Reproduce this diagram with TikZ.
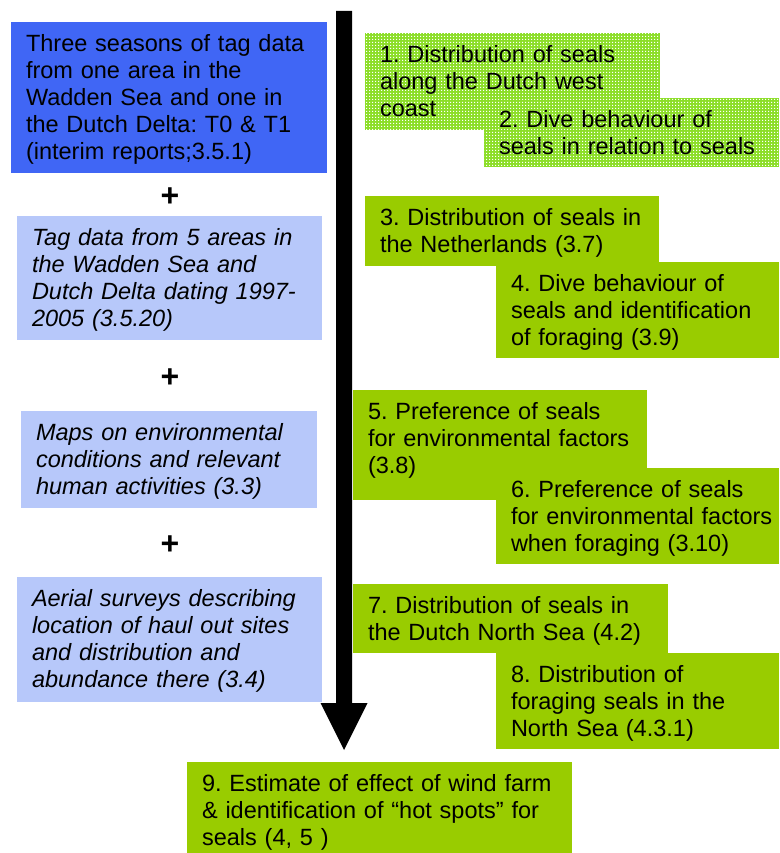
\documentclass[tikz,border=0pt]{standalone}
\usepackage{fontspec}
\setmainfont{Liberation Sans}
\usetikzlibrary{patterns.meta}
\definecolor{dblue}{RGB}{64,102,245}
\definecolor{lblue}{RGB}{183,200,250}
\definecolor{ogreen}{RGB}{153,204,0}
\definecolor{dgreen}{RGB}{140,222,40}
\pgfdeclarepattern{name=sqdots, type=uncolored,
  bottom left={\pgfpoint{0pt}{0pt}}, top right={\pgfpoint{3pt}{3pt}},
  tile size={\pgfpoint{3pt}{3pt}},
  code={\pgfpathrectangle{\pgfpointorigin}{\pgfpoint{1.5pt}{1.5pt}}\pgfusepath{fill}}}
\tikzset{
  box/.style={anchor=north west, inner xsep=0pt, inner ysep=0pt, outer sep=0pt,
    font=\fontsize{23.5}{27}\selectfont, text height=29.5pt,
    execute at begin node={\raggedright\leftskip=15pt\relax\frenchspacing
      \hyphenpenalty=10000\exhyphenpenalty=10000\relax}},
  darkbox/.style={box, fill=dblue},
  lightbox/.style={box, fill=lblue, font=\fontsize{23.5}{27}\selectfont\itshape},
  greenbox/.style={box, fill=ogreen},
  dotbox/.style={box, fill=dgreen, postaction={pattern=sqdots, pattern color=white}},
  plus/.style={font=\fontsize{32}{32}\selectfont\bfseries, inner sep=0pt}
}
\begin{document}
\begin{tikzpicture}[x=1pt, y=-1pt]
\useasboundingbox (0,0) rectangle (779,853);
\fill[white] (0,0) rectangle (779,853);

% big arrow
\coordinate (atop) at (344,11);
\coordinate (ahead) at (344,703);
\coordinate (atip) at (344,750);
\fill[black] ([xshift=-8pt]atop) -- ([xshift=8pt]atop) -- ([xshift=8pt]ahead)
  -- ([xshift=23.5pt]ahead) -- (atip) -- ([xshift=-23.5pt]ahead)
  -- ([xshift=-8pt]ahead) -- cycle;

% left column
\node[darkbox, text width=316pt, text depth=121.5pt] (b1) at (11,22)
  {Three seasons of tag data\\from one area in the\\Wadden Sea and one in\\the Dutch Delta: T0 \& T1\\(interim reports;3.5.1)};
\node[plus] (p1) at (170,197) {+};
\node[lightbox, text width=305pt, text depth=94.5pt] (l2) at (17,216)
  {Tag data from 5 areas in\\the Wadden Sea and\\Dutch Delta dating 1997-\\2005 (3.5.20)};
\node[plus] (p2) at (170,378) {+};
\node[lightbox, text width=296pt, text depth=67.5pt] (l3) at (21,411)
  {Maps on environmental\\conditions and relevant\\human activities (3.3)};
\node[plus] (p3) at (170,545) {+};
\node[lightbox, text width=305pt, text depth=95.5pt] (l4) at (17,577)
  {Aerial surveys describing\\location of haul out sites\\and distribution and\\abundance there (3.4)};

% right column
\node[dotbox, text width=295pt, text depth=67.5pt] (g1) at (365,33)
  {1. Distribution of seals\\along the Dutch west\\coast};
\node[dotbox, text width=295pt, text depth=39.5pt] (g2) at (484,98)
  {2. Dive behaviour of\\seals in relation to seals};
\node[greenbox, text width=294pt, text depth=40.5pt] (g3) at (365,196)
  {3. Distribution of seals in\\the Netherlands (3.7)};
\node[greenbox, text width=283pt, text depth=66.5pt] (g4) at (496,262)
  {4. Dive behaviour of\\seals and identification\\of foraging (3.9)};
\node[greenbox, text width=294pt, text depth=80.5pt] (g5) at (353,390)
  {5. Preference of seals\\for environmental factors\\(3.8)};
\node[greenbox, text width=283pt, text depth=66.5pt] (g6) at (496,468)
  {6. Preference of seals\\for environmental factors\\when foraging (3.10)};
\node[greenbox, text width=315pt, text depth=39.5pt] (g7) at (353,584)
  {7. Distribution of seals in\\the Dutch North Sea (4.2)};
\node[greenbox, text width=283pt, text depth=66.5pt] (g8) at (496,653)
  {8. Distribution of\\foraging seals in the\\North Sea (4.3.1)};
\node[greenbox, text width=385pt, text depth=61.5pt] (g9) at (187,762)
  {9. Estimate of effect of wind farm\\\& identification of “hot spots” for\\seals (4, 5 )};
\end{tikzpicture}
\end{document}
